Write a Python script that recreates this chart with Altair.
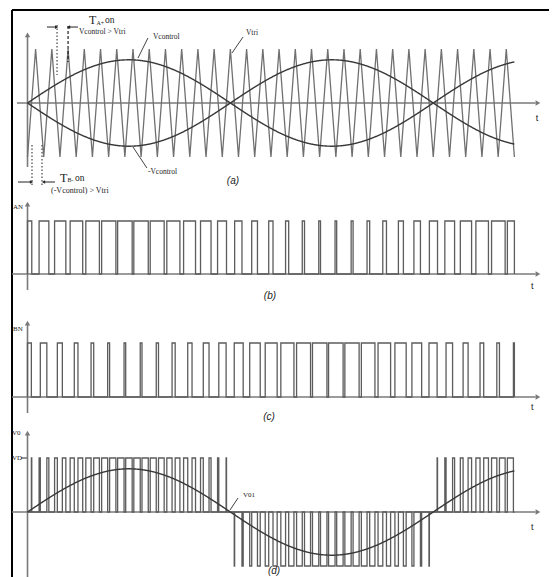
import numpy as np
import pandas as pd
import altair as alt

# ---------------- parameters / values ----------------
CARRIER_CYCLES = 30          # triangle periods drawn
CARRIER_PER_CYCLE = 25       # triangle periods per control-sine period (mf)
M_A = 0.8                    # control amplitude / triangle amplitude (ma)
VD = 1.0

W, H = 541, 569
X_DOM = [-1.2015, 32.132]    # time in carrier periods
# panel: (zero line position in px from top of page, px per unit)
PANELS = {"a": (103, 54), "b": (274, 53), "c": (397, 54), "d": (512, 54)}
YDOM = {k: [(ay - (8 + H)) / u, (ay - 8) / u] for k, (ay, u) in PANELS.items()}

TRI_COLOR = "#707070"
CTRL_COLOR = "#383838"
PULSE_COLOR = "#5c5c5c"
AXIS_COLOR = "#7a7a7a"
TEXT_COLOR = "#222222"

# ---------------- waveforms ----------------
k = np.arange(0, 2 * CARRIER_CYCLES + 1)
tri_df = pd.DataFrame({"t": k / 2.0, "v": np.where(k % 2 == 0, -1.0, 1.0), "o": k, "g": "tri"})

ts = np.linspace(0, CARRIER_CYCLES, 901)
ctrl = M_A * np.sin(2 * np.pi * ts / CARRIER_PER_CYCLE)
ctrl_pos = pd.DataFrame({"t": ts, "v": ctrl, "o": np.arange(len(ts)), "g": "p"})
ctrl_neg = pd.DataFrame({"t": ts, "v": -ctrl, "o": np.arange(len(ts)), "g": "n"})
fund_df = pd.DataFrame({"t": ts, "v": ctrl * VD, "o": np.arange(len(ts)), "g": "f"})

tt = np.linspace(0, CARRIER_CYCLES, 120001)
cc = M_A * np.sin(2 * np.pi * tt / CARRIER_PER_CYCLE)
frac = tt - np.floor(tt)
tri = 1 - 4 * np.abs(frac - 0.5)
sig_a = (cc > tri).astype(int)
sig_b = (-cc > tri).astype(int)
sig_o = sig_a - sig_b


def step_path(sig):
    pts = [(tt[0], 0.0), (tt[0], float(sig[0]))]
    for i in np.nonzero(np.diff(sig))[0]:
        te = 0.5 * (tt[i] + tt[i + 1])
        pts.append((te, float(sig[i])))
        pts.append((te, float(sig[i + 1])))
    pts.append((tt[-1], float(sig[-1])))
    pts.append((tt[-1], 0.0))
    df = pd.DataFrame(pts, columns=["t", "v"])
    df["v"] = df["v"] * VD
    df["o"] = np.arange(len(df))
    df["g"] = "s"
    return df


pulse_a = step_path(sig_a)
pulse_b = step_path(sig_b)
pulse_o = step_path(sig_o)


# ---------------- helpers ----------------
def X():
    return alt.X("t:Q", scale=alt.Scale(domain=X_DOM, nice=False, zero=False), axis=None)


def Y(p):
    return alt.Y("v:Q", scale=alt.Scale(domain=YDOM[p], nice=False, zero=False), axis=None)


def line_layer(df, p, color, width):
    return alt.Chart(df).mark_line(color=color, strokeWidth=width, strokeJoin="miter").encode(
        x=X(), y=Y(p), order="o:Q", detail="g:N")


def seg_layer(rows, p, color, width, dash=None):
    df = pd.DataFrame(rows, columns=["t", "v", "t2", "v2"])
    kw = dict(color=color, strokeWidth=width)
    if dash:
        kw["strokeDash"] = dash
    return alt.Chart(df).mark_rule(**kw).encode(x=X(), y=Y(p), x2="t2:Q", y2="v2:Q")


def arrow_layer(rows, p, color=AXIS_COLOR, size=30):
    df = pd.DataFrame(rows, columns=["t", "v", "s"])
    return alt.Chart(df).mark_point(filled=True, opacity=1, color=color, size=size).encode(
        x=X(), y=Y(p), shape=alt.Shape("s:N", scale=None))


def text_layer(rows, p, font="Liberation Serif", style="normal", align="left", color=TEXT_COLOR):
    df = pd.DataFrame(rows, columns=["t", "v", "label", "fs"])
    return alt.Chart(df).mark_text(align=align, baseline="middle", font=font, fontStyle=style,
                                   color=color).encode(
        x=X(), y=Y(p), text="label:N", size=alt.Size("fs:Q", scale=None))


# ---------------- panel (a) ----------------
panel_a = alt.layer(
    # frame
    seg_layer([(-0.955, 1.722, 33.0, 1.722), (-0.955, 1.722, -0.955, -9.0)], "a", "#000000", 2),
    # axes
    seg_layer([(-0.65, 0.0, 31.3, 0.0), (0.0, -1.185, 0.0, 1.24)], "a", AXIS_COLOR, 1.6),
    arrow_layer([(31.45, 0.0, "triangle-right"), (0.0, 1.26, "triangle-up")], "a"),
    line_layer(tri_df, "a", TRI_COLOR, 1.3),
    line_layer(ctrl_pos, "a", CTRL_COLOR, 1.4),
    line_layer(ctrl_neg, "a", CTRL_COLOR, 1.4),
    # leader lines
    seg_layer([(7.42, 1.204, 6.81, 0.833), (13.28, 1.222, 12.60, 0.926),
               (7.36, -1.204, 6.50, -0.815)], "a", "#444444", 1),
    # dimension arrows
    seg_layer([(1.20, 1.407, 1.69, 1.407), (3.11, 1.407, 2.62, 1.407),
               (-0.585, -1.463, 0.154, -1.463), (1.694, -1.463, 1.078, -1.463)], "a", "#222222", 1),
    arrow_layer([(1.79, 1.407, "triangle-right"), (2.53, 1.407, "triangle-left"),
                 (0.246, -1.463, "triangle-right"), (0.986, -1.463, "triangle-left")], "a",
                color="#222222", size=14),
    seg_layer([(1.82, 1.444, 1.82, 0.519), (0.277, -0.778, 0.277, -1.556),
               (0.893, -0.778, 0.893, -1.556)], "a", "#444444", 1.2, dash=[1.5, 2]),
    seg_layer([(2.50, 1.426, 2.50, 0.759)], "a", "#222222", 1.2, dash=[3, 2]),
    text_layer([(3.79, 1.537, "T", 12), (4.25, 1.481, "A+", 6), (4.775, 1.537, "on", 9.5),
                (3.17, 1.315, "Vcontrol > Vtri", 7.5),
                (7.73, 1.222, "Vcontrol", 7.5), (13.46, 1.296, "Vtri", 7.5),
                (7.42, -1.278, "-Vcontrol", 7.5),
                (2.00, -1.389, "T", 12), (2.465, -1.426, "B-", 6), (2.93, -1.389, "on", 9.5),
                (1.45, -1.63, "(-Vcontrol) > Vtri", 8)], "a"),
    text_layer([(31.39, -0.278, "t", 9)], "a", font="Liberation Sans", align="center"),
    text_layer([(12.66, -1.444, "(a)", 10)], "a", font="Liberation Sans", style="italic",
               align="center"),
)

# ---------------- panel (b) ----------------
panel_b = alt.layer(
    seg_layer([(-0.955, 0.0, 31.3, 0.0), (0.0, -0.302, 0.0, 1.30)], "b", AXIS_COLOR, 1.6),
    arrow_layer([(31.45, 0.0, "triangle-right"), (0.0, 1.32, "triangle-up")], "b"),
    line_layer(pulse_a, "b", PULSE_COLOR, 1.3),
    text_layer([(-0.893, 1.264, "AN", 7)], "b"),
    text_layer([(31.1, -0.226, "t", 9)], "b", font="Liberation Sans", align="center"),
    text_layer([(14.94, -0.415, "(b)", 10)], "b", font="Liberation Sans", style="italic",
               align="center"),
)

# ---------------- panel (c) ----------------
panel_c = alt.layer(
    seg_layer([(-0.955, 0.0, 31.3, 0.0), (0.0, -0.296, 0.0, 1.333)], "c", AXIS_COLOR, 1.6),
    arrow_layer([(31.45, 0.0, "triangle-right"), (0.0, 1.37, "triangle-up")], "c"),
    line_layer(pulse_b, "c", PULSE_COLOR, 1.3),
    text_layer([(-0.893, 1.259, "BN", 7)], "c"),
    text_layer([(31.1, -0.185, "t", 9)], "c", font="Liberation Sans", align="center"),
    text_layer([(14.88, -0.37, "(c)", 10)], "c", font="Liberation Sans", style="italic",
               align="center"),
)

# ---------------- panel (d) ----------------
panel_d = alt.layer(
    seg_layer([(-0.955, 0.0, 31.3, 0.0), (0.0, -1.3, 0.0, 1.426),
               (-0.40, 1.0, -0.03, 1.0)], "d", AXIS_COLOR, 1.6),
    arrow_layer([(31.45, 0.0, "triangle-right"), (0.0, 1.46, "triangle-up")], "d"),
    line_layer(pulse_o, "d", PULSE_COLOR, 1.3),
    line_layer(fund_df, "d", CTRL_COLOR, 1.4),
    seg_layer([(12.97, 0.259, 12.48, 0.037)], "d", "#444444", 1),
    text_layer([(-0.955, 1.463, "V0", 7), (-0.955, 1.0, "VD", 7), (13.28, 0.315, "V01", 7)], "d"),
    text_layer([(31.1, -0.278, "t", 9)], "d", font="Liberation Sans", align="center"),
    text_layer([(15.19, -1.093, "(d)", 10)], "d", font="Liberation Sans", style="italic",
               align="center"),
)

chart = alt.layer(panel_a, panel_b, panel_c, panel_d).resolve_scale(
    y="independent"
).properties(
    width=W, height=H, padding=0, autosize=alt.AutoSizeParams(type="none"), background="white"
).configure_view(stroke=None)

chart.save("out.html", embed_options={"renderer": "svg", "actions": False})
